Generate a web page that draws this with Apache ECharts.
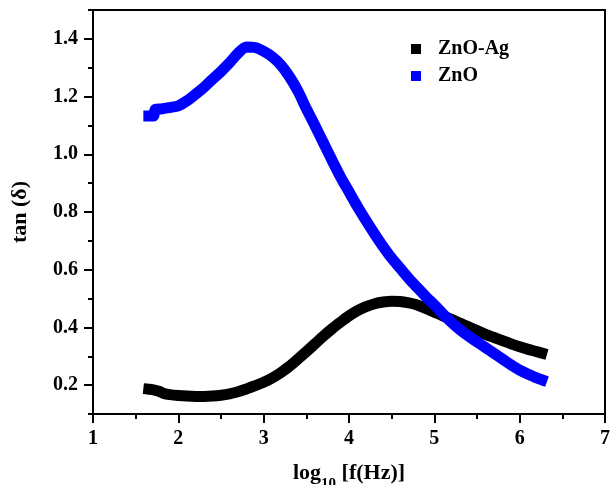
<!DOCTYPE html>
<html>
<head>
<meta charset="utf-8">
<script src="https://cdn.jsdelivr.net/npm/echarts@6/dist/echarts.min.js"></script>
<style>html,body{margin:0;padding:0;background:#fff}#c{width:615px;height:485px}</style>
</head>
<body>
<div id="c"></div>
<script>
// ---- data ----
var seriesNames = ['ZnO-Ag', 'ZnO'];
var znoAg = [
  [1.59,0.188],[1.65,0.186],[1.72,0.183],[1.78,0.178],[1.84,0.170],[1.9,0.167],[2.0,0.164],
  [2.1,0.162],[2.2,0.161],[2.3,0.161],[2.4,0.162],[2.5,0.165],[2.6,0.170],[2.7,0.177],
  [2.8,0.187],[2.9,0.198],[3.0,0.210],[3.1,0.225],[3.2,0.243],[3.3,0.265],[3.4,0.290],
  [3.5,0.316],[3.6,0.343],[3.7,0.370],[3.8,0.395],[3.9,0.418],[4.0,0.440],[4.1,0.458],
  [4.2,0.472],[4.3,0.482],[4.4,0.488],[4.5,0.491],[4.6,0.490],[4.7,0.485],[4.8,0.478],
  [4.9,0.466],[5.0,0.453],[5.1,0.440],[5.2,0.428],[5.3,0.415],[5.4,0.402],[5.5,0.389],
  [5.6,0.376],[5.7,0.365],[5.8,0.354],[5.9,0.343],[6.0,0.333],[6.1,0.324],[6.2,0.316],
  [6.32,0.306]
];
var zno = [
  [1.59,1.133],[1.65,1.133],[1.71,1.133],[1.73,1.156],[1.8,1.157],[1.9,1.162],[2.0,1.168],
  [2.1,1.185],[2.2,1.208],[2.3,1.232],[2.4,1.260],[2.5,1.287],[2.6,1.317],[2.7,1.350],
  [2.8,1.372],[2.9,1.370],[3.0,1.357],[3.1,1.338],[3.2,1.310],[3.3,1.270],[3.4,1.220],
  [3.5,1.158],[3.6,1.100],[3.7,1.040],[3.8,0.980],[3.9,0.922],[4.0,0.870],[4.1,0.818],
  [4.2,0.770],[4.3,0.724],[4.4,0.680],[4.5,0.640],[4.6,0.605],[4.7,0.570],[4.8,0.538],
  [4.9,0.507],[5.0,0.478],[5.1,0.447],[5.2,0.418],[5.3,0.392],[5.4,0.370],[5.5,0.350],
  [5.6,0.330],[5.7,0.310],[5.8,0.290],[5.9,0.270],[6.0,0.252],[6.1,0.238],[6.2,0.225],
  [6.32,0.212]
];
var yMajorTicks = [0.2,0.4,0.6,0.8,1.0,1.2,1.4];
var yMinorTicks = [0.1,0.3,0.5,0.7,0.9,1.1,1.3,1.5];
var colors = ['#000000', '#0000ff'];

var font = 'Liberation Serif';
var chart = echarts.init(document.getElementById('c'));
chart.setOption({
  animation: false,
  backgroundColor: '#fff',
  grid: {left: 93, right: 10, top: 10, bottom: 71, outerBoundsMode: 'none', containLabel: false,
    show: true, borderColor: '#000', borderWidth: 2, backgroundColor: 'transparent'},
  legend: {
    orient: 'vertical', left: 406, top: 34, itemWidth: 10, itemHeight: 10, itemGap: 7,
    icon: 'rect', data: seriesNames,
    textStyle: {fontFamily: font, fontWeight: 'bold', fontSize: 20, color: '#000', padding: [0,0,0,12]}
  },
  xAxis: {
    type: 'value', min: 1, max: 7, interval: 1,
    name: '{a|log}{s|10}{a| [f(Hz)]}', nameLocation: 'middle', nameGap: 48,
    nameTextStyle: {rich: {
      a: {fontFamily: font, fontWeight: 'bold', fontSize: 22, color: '#000'},
      s: {fontFamily: font, fontWeight: 'bold', fontSize: 15, color: '#000', verticalAlign: 'bottom', padding: [0,0,-8,0]}
    }},
    axisLine: {lineStyle: {color: '#000', width: 2}},
    axisTick: {length: 9, lineStyle: {color: '#000', width: 2}},
    minorTick: {show: true, splitNumber: 2, length: 5, lineStyle: {color: '#000', width: 2}},
    splitLine: {show: false},
    axisLabel: {margin: 15, fontFamily: font, fontWeight: 'bold', fontSize: 20, color: '#000'}
  },
  yAxis: [{
    type: 'value', min: 0.1, max: 1.5, interval: 0.1, position: 'left',
    name: 'tan (δ)', nameLocation: 'middle', nameGap: 62, nameRotate: 90,
    nameTextStyle: {fontFamily: font, fontWeight: 'bold', fontSize: 22, color: '#000'},
    axisLine: {lineStyle: {color: '#000', width: 2}},
    axisTick: {length: 9, customValues: yMajorTicks, lineStyle: {color: '#000', width: 2}},
    splitLine: {show: false},
    axisLabel: {margin: 15, customValues: yMajorTicks, fontFamily: font, fontWeight: 'bold', fontSize: 20, color: '#000',
      formatter: function (v) { return v.toFixed(1); }}
  }, {
    type: 'value', min: 0.1, max: 1.5, interval: 0.1, position: 'left', offset: 0,
    axisLine: {show: false},
    axisTick: {length: 5, customValues: yMinorTicks, lineStyle: {color: '#000', width: 2}},
    axisLabel: {show: false},
    splitLine: {show: false}
  }],
  series: [{
    name: seriesNames[0], type: 'line', data: znoAg, yAxisIndex: 0, smooth: 0.3,
    symbol: 'rect', symbolSize: 10, showSymbol: false,
    itemStyle: {color: colors[0]}, lineStyle: {color: colors[0], width: 11, cap: 'butt', join: 'round'}
  }, {
    name: seriesNames[1], type: 'line', data: zno, yAxisIndex: 0, smooth: 0.3,
    symbol: 'rect', symbolSize: 10, showSymbol: false,
    itemStyle: {color: colors[1]}, lineStyle: {color: colors[1], width: 11, cap: 'butt', join: 'round'}
  }]
});
</script>
</body>
</html>
